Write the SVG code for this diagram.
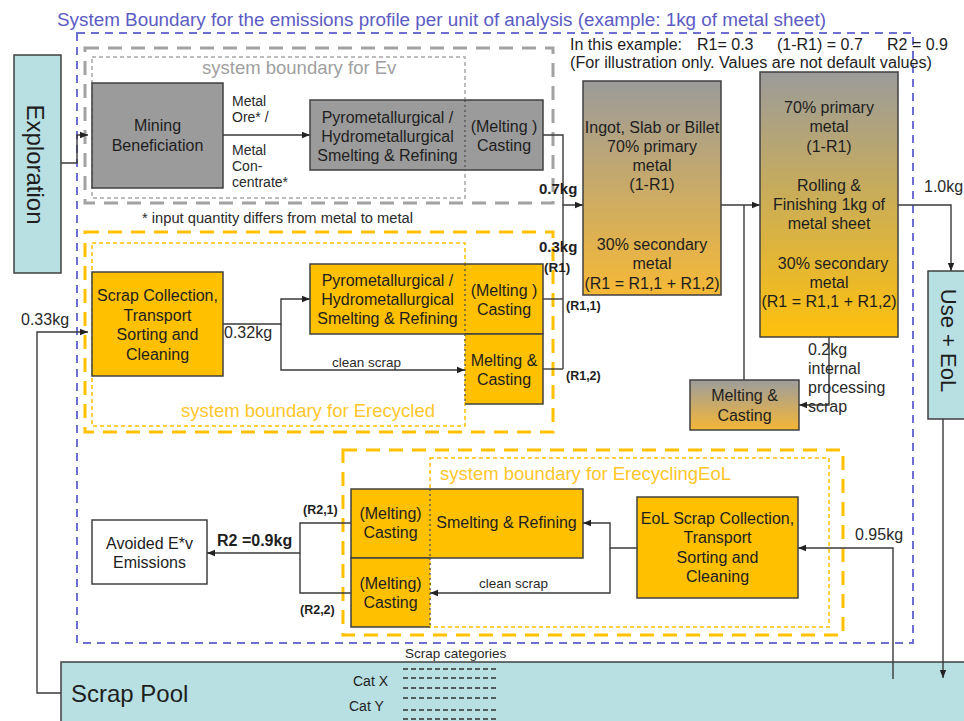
<svg xmlns="http://www.w3.org/2000/svg" width="964" height="721" viewBox="0 0 964 721">
  <defs>
    <style>
      text { font-family: "Liberation Sans", Arial, sans-serif; fill: #1e1e1e; }
      .box { stroke: #404040; stroke-width: 1.5; }
      .grey { fill: #9b9b9b; }
      .gold { fill: #ffc000; }
      .teal { fill: #b8dfe2; }
      .white { fill: #ffffff; }
      .t16 { font-size: 16px; }
      .mid { text-anchor: middle; }
      .lbl { font-size: 14px; fill: #2a2a2a; }
      .num { font-size: 16px; fill: #2a2a2a; }
      .b13 { font-size: 12.5px; font-weight: bold; }
      .b15 { font-size: 15px; font-weight: bold; }
      .conn { fill: none; stroke: #3a3a3a; stroke-width: 1.4; }
      .arr { marker-end: url(#ah); }
      .bnd-blue { fill: none; stroke: #6f6fd2; stroke-width: 2; stroke-dasharray: 8 6; }
      .bnd-grey { fill: none; stroke: #a2a2a2; stroke-width: 3; stroke-dasharray: 14 9; }
      .bnd-grey-in { fill: none; stroke: #a8a8a8; stroke-width: 1.5; stroke-dasharray: 4 3; }
      .bnd-gold { fill: none; stroke: #ffc000; stroke-width: 3; stroke-dasharray: 14 9; }
      .bnd-gold-in { fill: none; stroke: #ffc000; stroke-width: 1.5; stroke-dasharray: 4 3; }
      .divider { stroke: #505050; stroke-width: 1.3; stroke-dasharray: 2 3; }
      .blabel { font-size: 18.5px; }
      .cat { stroke: #333333; stroke-width: 1.3; stroke-dasharray: 5 3; }
    </style>
    <marker id="ah" viewBox="0 0 10 10" refX="10" refY="5" markerWidth="8" markerHeight="8" markerUnits="userSpaceOnUse" orient="auto">
      <path d="M0,1 L10,5 L0,9 z" fill="#222222"/>
    </marker>
    <linearGradient id="gIngot" x1="0" y1="0" x2="0" y2="1">
      <stop offset="0" stop-color="#9b9b9b"/>
      <stop offset="1" stop-color="#f6b936"/>
    </linearGradient>
    <linearGradient id="gRoll" x1="0" y1="0" x2="0" y2="1">
      <stop offset="0" stop-color="#9b9b9b"/>
      <stop offset="1" stop-color="#ffc10c"/>
    </linearGradient>
    <linearGradient id="gMelt" x1="0" y1="0" x2="0" y2="1">
      <stop offset="0" stop-color="#9d9d9d"/>
      <stop offset="1" stop-color="#f5b636"/>
    </linearGradient>
  </defs>

  <rect width="964" height="721" fill="#ffffff"/>

  <!-- system boundaries and their labels -->
  <g id="boundaries">
    <text x="57" y="25.5" font-size="18" style="fill:#5c5cc4" textLength="769" lengthAdjust="spacingAndGlyphs">System Boundary for the emissions profile per unit of analysis (example: 1kg of metal sheet)</text>
    <rect class="bnd-blue" x="77" y="33" width="836" height="610"/>

    <rect class="bnd-grey" x="85" y="48" width="468" height="155"/>
    <rect class="bnd-grey-in" x="92" y="57" width="373" height="141"/>
    <text class="blabel" x="202" y="74" style="fill:#a0a0a0">system boundary for Ev</text>

    <rect class="bnd-gold" x="85" y="232" width="468" height="200"/>
    <rect class="bnd-gold-in" x="92" y="243" width="373" height="183"/>
    <text class="blabel" x="181" y="417" style="fill:#ffc62a">system boundary for Erecycled</text>

    <rect class="bnd-gold" x="343" y="450" width="500" height="185"/>
    <rect class="bnd-gold-in" x="430" y="458" width="399" height="169"/>
    <text class="blabel" x="440" y="480" style="fill:#ffc62a">system boundary for ErecyclingEoL</text>
  </g>

  <!-- example values -->
  <g id="notes">
    <text class="t16" x="570" y="50">In this example:</text>
    <text class="t16" x="697" y="50">R1= 0.3</text>
    <text class="t16" x="777" y="50">(1-R1) = 0.7</text>
    <text class="t16" x="887" y="50">R2 = 0.9</text>
    <text class="t16" x="570" y="68" textLength="362" lengthAdjust="spacingAndGlyphs">(For illustration only. Values are not default values)</text>
    <text class="lbl" x="142" y="223" textLength="271" lengthAdjust="spacingAndGlyphs">* input quantity differs from metal to metal</text>
  </g>

  <!-- scrap pool sits under the flow lines that end inside it -->
  <g id="scrap-pool">
    <rect class="box teal" x="61" y="662" width="910" height="70"/>
    <text x="71" y="702" font-size="24">Scrap Pool</text>
    <text x="405" y="658" font-size="13.5" style="fill:#2a2a2a">Scrap categories</text>
    <text x="353" y="686" font-size="14">Cat X</text>
    <text x="349" y="711" font-size="14">Cat Y</text>
    <line class="cat" x1="403" y1="669" x2="499" y2="669"/>
    <line class="cat" x1="403" y1="678" x2="499" y2="678"/>
    <line class="cat" x1="403" y1="688" x2="499" y2="688"/>
    <line class="cat" x1="403" y1="698" x2="499" y2="698"/>
    <line class="cat" x1="403" y1="710" x2="499" y2="710"/>
    <line class="cat" x1="403" y1="719" x2="499" y2="719"/>
  </g>

  <!-- flows -->
  <g id="connectors">
    <polyline class="conn arr" points="61,163 77,163 77,135 88,135"/>
    <line class="conn arr" x1="223" y1="135" x2="310" y2="135"/>
    <polyline class="conn arr" points="543,135 563,135 563,205 583,205"/>
    <line class="conn" x1="563" y1="205" x2="563" y2="369"/>
    <line class="conn" x1="543" y1="299" x2="563" y2="299"/>
    <line class="conn" x1="543" y1="369" x2="563" y2="369"/>
    <polyline class="conn arr" points="223,324 281,324 281,299 310,299"/>
    <polyline class="conn arr" points="281,324 281,370 465,370"/>
    <line class="conn arr" x1="721" y1="205" x2="760" y2="205"/>
    <line class="conn" x1="744" y1="205" x2="744" y2="380"/>
    <polyline class="conn arr" points="829,337 829,405 799,405"/>
    <polyline class="conn arr" points="898,205 951,205 951,271"/>
    <line class="conn arr" x1="943" y1="419" x2="943" y2="678"/>
    <polyline class="conn arr" points="893,679 893,548 798,548"/>
    <polyline class="conn arr" points="637,548 610,548 610,523 583,523"/>
    <polyline class="conn arr" points="610,548 610,593 430,593"/>
    <polyline class="conn" points="351,523 300,523 300,593 351,593"/>
    <line class="conn arr" x1="300" y1="553" x2="207" y2="553"/>
    <polyline class="conn arr" points="61,693 37,693 37,332 88,332"/>

    <text class="lbl" x="232" y="106">Metal</text>
    <text class="lbl" x="232" y="122">Ore* /</text>
    <text class="lbl" x="232" y="155">Metal</text>
    <text class="lbl" x="232" y="171">Con-</text>
    <text class="lbl" x="232" y="187">centrate*</text>

    <text class="b15" x="539" y="194">0.7kg</text>
    <text class="b15" x="539" y="252">0.3kg</text>
    <text class="b13" x="544" y="272" style="font-size:13.5px">(R1)</text>
    <text class="b13" x="566" y="310">(R1,1)</text>
    <text class="b13" x="566" y="380">(R1,2)</text>

    <text class="num" x="21" y="325">0.33kg</text>
    <text class="num" x="224" y="338">0.32kg</text>
    <text x="332" y="367" font-size="13.5" style="fill:#2a2a2a">clean scrap</text>

    <text class="num" x="924" y="192">1.0kg</text>
    <text class="num" x="808" y="355">0.2kg</text>
    <text class="num" x="808" y="374">internal</text>
    <text class="num" x="808" y="393">processing</text>
    <text class="num" x="808" y="412">scrap</text>
    <text class="num" x="855" y="540">0.95kg</text>

    <text x="479" y="588" font-size="13.5" style="fill:#2a2a2a">clean scrap</text>
    <text class="b13" x="303" y="514">(R2,1)</text>
    <text class="b13" x="300" y="614">(R2,2)</text>
    <text x="217" y="546" font-size="16" font-weight="bold">R2 =0.9kg</text>
  </g>

  <!-- process nodes -->
  <g id="exploration">
    <rect class="box teal" x="14" y="55" width="47" height="218"/>
    <text transform="translate(27,164.5) rotate(90)" font-size="24" class="mid">Exploration</text>
  </g>

  <g id="mining">
    <rect class="box grey" x="92" y="83" width="131" height="105"/>
    <text class="t16 mid" x="157.5" y="131">Mining</text>
    <text class="t16 mid" x="157.5" y="151">Beneficiation</text>
  </g>

  <g id="primary-smelting">
    <rect class="box grey" x="310" y="100" width="233" height="70"/>
    <line class="divider" x1="465" y1="100" x2="465" y2="170"/>
    <text class="t16 mid" x="387.5" y="123">Pyrometallurgical /</text>
    <text class="t16 mid" x="387.5" y="142">Hydrometallurgical</text>
    <text class="t16 mid" x="387.5" y="161">Smelting &amp; Refining</text>
    <text class="t16 mid" x="504" y="132">(Melting )</text>
    <text class="t16 mid" x="504" y="151">Casting</text>
  </g>

  <g id="scrap-collection">
    <rect class="box gold" x="92" y="272" width="131" height="104"/>
    <text class="t16 mid" x="157.5" y="301">Scrap Collection,</text>
    <text class="t16 mid" x="157.5" y="321">Transport</text>
    <text class="t16 mid" x="157.5" y="340">Sorting and</text>
    <text class="t16 mid" x="157.5" y="360">Cleaning</text>
  </g>

  <g id="secondary-smelting">
    <rect class="box gold" x="310" y="264" width="233" height="70"/>
    <line class="divider" x1="465" y1="264" x2="465" y2="334"/>
    <text class="t16 mid" x="387.5" y="286">Pyrometallurgical /</text>
    <text class="t16 mid" x="387.5" y="305">Hydrometallurgical</text>
    <text class="t16 mid" x="387.5" y="324">Smelting &amp; Refining</text>
    <text class="t16 mid" x="504" y="296">(Melting )</text>
    <text class="t16 mid" x="504" y="315">Casting</text>
  </g>

  <g id="scrap-melting">
    <rect class="gold" x="465" y="334" width="78" height="70"/>
    <path class="box" d="M465,334 H543 V404 H465" fill="none"/>
    <line class="divider" x1="465" y1="334" x2="465" y2="404"/>
    <text class="t16 mid" x="504" y="366">Melting &amp;</text>
    <text class="t16 mid" x="504" y="385">Casting</text>
  </g>

  <g id="ingot">
    <rect class="box" fill="url(#gIngot)" x="583" y="81" width="138" height="214"/>
    <text class="t16 mid" x="652" y="133">Ingot, Slab or Billet</text>
    <text class="t16 mid" x="652" y="152">70% primary</text>
    <text class="t16 mid" x="652" y="171">metal</text>
    <text class="t16 mid" x="652" y="190">(1-R1)</text>
    <text class="t16 mid" x="652" y="250">30% secondary</text>
    <text class="t16 mid" x="652" y="269">metal</text>
    <text class="t16 mid" x="652" y="289">(R1 = R1,1 + R1,2)</text>
  </g>

  <g id="rolling">
    <rect class="box" fill="url(#gRoll)" x="760" y="72" width="138" height="265"/>
    <text class="t16 mid" x="829" y="113">70% primary</text>
    <text class="t16 mid" x="829" y="132">metal</text>
    <text class="t16 mid" x="829" y="152">(1-R1)</text>
    <text class="t16 mid" x="829" y="191">Rolling &amp;</text>
    <text class="t16 mid" x="829" y="210">Finishing 1kg of</text>
    <text class="t16 mid" x="829" y="229">metal sheet</text>
    <text class="t16 mid" x="833" y="269">30% secondary</text>
    <text class="t16 mid" x="829" y="288">metal</text>
    <text class="t16 mid" x="829" y="307">(R1 = R1,1 + R1,2)</text>
  </g>

  <g id="internal-melting">
    <rect class="box" fill="url(#gMelt)" x="690" y="380" width="109" height="50"/>
    <text class="t16 mid" x="744.5" y="401">Melting &amp;</text>
    <text class="t16 mid" x="744.5" y="421">Casting</text>
  </g>

  <g id="use-eol">
    <rect class="box teal" x="928" y="271" width="40" height="148"/>
    <text transform="translate(941,340.5) rotate(90)" font-size="22" class="mid">Use + EoL</text>
  </g>

  <g id="eol-collection">
    <rect class="box gold" x="637" y="497" width="161" height="101"/>
    <text class="t16 mid" x="717.5" y="524">EoL Scrap Collection,</text>
    <text class="t16 mid" x="717.5" y="543">Transport</text>
    <text class="t16 mid" x="717.5" y="563">Sorting and</text>
    <text class="t16 mid" x="717.5" y="582">Cleaning</text>
  </g>

  <g id="eol-smelting">
    <rect class="box gold" x="351" y="489" width="232" height="69"/>
    <line class="divider" x1="430" y1="489" x2="430" y2="558"/>
    <text class="t16 mid" x="390.5" y="519">(Melting)</text>
    <text class="t16 mid" x="390.5" y="538">Casting</text>
    <text class="t16 mid" x="506.5" y="528">Smelting &amp; Refining</text>
  </g>

  <g id="eol-casting">
    <rect class="gold" x="351" y="558" width="79" height="69"/>
    <path class="box" d="M430,558 H351 V627 H430" fill="none"/>
    <line class="divider" x1="430" y1="558" x2="430" y2="627"/>
    <text class="t16 mid" x="390.5" y="589">(Melting)</text>
    <text class="t16 mid" x="390.5" y="608">Casting</text>
  </g>

  <g id="avoided">
    <rect class="box white" x="92" y="520" width="115" height="64"/>
    <text class="t16 mid" x="149.5" y="549">Avoided E*v</text>
    <text class="t16 mid" x="149.5" y="568">Emissions</text>
  </g>
</svg>
